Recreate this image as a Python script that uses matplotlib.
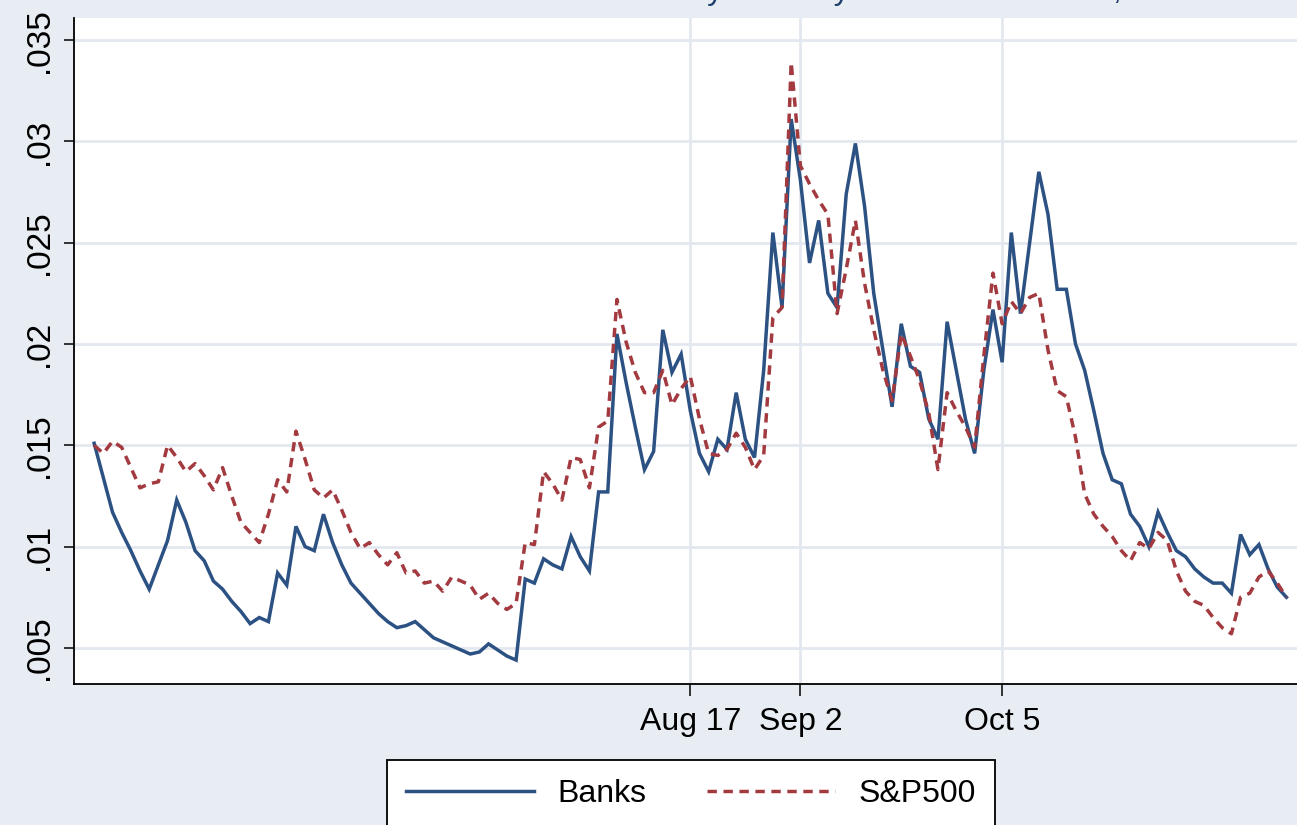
import matplotlib
matplotlib.use("Agg")
import matplotlib.pyplot as plt
import numpy as np

# ---- data ----
banks = [.0151, .0134, .0117, .0107, .0098, .0088, .0079, .0091, .0103, .0123,
         .0112, .0098, .0093, .0083, .0079, .0073, .0068, .0062, .0065, .0063,
         .0087, .0081, .0110, .0100, .0098, .0116, .0102, .0091, .0082, .0077,
         .0072, .0067, .0063, .0060, .0061, .0063, .0059, .0055, .0053, .0051,
         .0049, .0047, .0048, .0052, .0049, .0046, .0044, .0084, .0082, .0094,
         .0091, .0089, .0105, .0095, .0088, .0127, .0127, .0205, .0181, .0159,
         .0138, .0147, .0207, .0186, .0195, .0167, .0146, .0137, .0153, .0148,
         .0176, .0153, .0144, .0187, .0255, .0218, .0311, .0281, .0240, .0261,
         .0225, .0218, .0274, .0299, .0268, .0225, .0197, .0169, .0210, .0189,
         .0186, .0163, .0153, .0211, .0187, .0163, .0146, .0187, .0217, .0191,
         .0255, .0215, .0250, .0285, .0264, .0227, .0227, .0200, .0187, .0167,
         .0146, .0133, .0131, .0116, .0110, .0100, .0117, .0107, .0098, .0095,
         .0089, .0085, .0082, .0082, .0077, .0106, .0096, .0101, .0089, .0080,
         .0075]

sp500 = [.0150, .0146, .0152, .0149, .0139, .0129, .0131, .0132, .0150, .0144,
         .0137, .0141, .0135, .0128, .0139, .0125, .0112, .0107, .0102, .0116,
         .0133, .0127, .0157, .0143, .0128, .0124, .0128, .0118, .0107, .0099,
         .0102, .0096, .0091, .0097, .0087, .0088, .0082, .0083, .0078, .0085,
         .0083, .0081, .0074, .0077, .0072, .0069, .0072, .0102, .0101, .0137,
         .0131, .0123, .0144, .0143, .0129, .0159, .0162, .0222, .0201, .0186,
         .0176, .0176, .0187, .0170, .0178, .0184, .0163, .0146, .0145, .0148,
         .0156, .0149, .0138, .0145, .0213, .0218, .0339, .0288, .0279, .0271,
         .0264, .0215, .0237, .0261, .0230, .0207, .0187, .0172, .0205, .0194,
         .0182, .0166, .0138, .0176, .0167, .0159, .0149, .0194, .0235, .0210,
         .0221, .0215, .0223, .0225, .0197, .0177, .0174, .0154, .0126, .0116,
         .0110, .0105, .0098, .0093, .0102, .0099, .0107, .0103, .0088, .0078,
         .0073, .0071, .0065, .0060, .0057, .0075, .0077, .0085, .0088, .0082,
         .0075]

day_index = list(range(len(banks)))
xtick_pos = [65, 77, 99]
xtick_labels = ["Aug 17", "Sep 2", "Oct 5"]
ytick_vals = [.005, .01, .015, .02, .025, .03, .035]
ytick_labels = [".005", ".01", ".015", ".02", ".025", ".03", ".035"]
series_labels = ["Banks", "S&P500"]
title_text = "Daily Volatility: Banks & S&P500, 2007"

# ---- styling ----
plt.rcParams['font.family'] = ['Liberation Sans', 'DejaVu Sans']
BG = '#e8ecf3'
GRID = '#e3e8f0'
NAVY = '#2c5183'
MAROON = '#a23a40'
FS = 23

W, H = 1297, 825
fig = plt.figure(figsize=(W / 100, H / 100), dpi=100, facecolor=BG)
ax = fig.add_axes([74 / W, 1 - 684 / H, (W - 74) / W, (684 - 18) / H])
ax.set_facecolor('white')

ax.plot(day_index, banks, color=NAVY, lw=2.5, solid_joinstyle='miter',
        label=series_labels[0], zorder=3)
ax.plot(day_index, sp500, color=MAROON, lw=2.5, linestyle=(0, (2.7, 1.9)),
        label=series_labels[1], zorder=3)

ax.set_xlim(-2.2, 131.15)
ax.set_ylim(0.00322, 0.03609)

ax.set_yticks(ytick_vals)
ax.set_yticklabels(ytick_labels, rotation=90, va='center', fontsize=FS + 1)
ax.set_xticks(xtick_pos)
ax.set_xticklabels(xtick_labels, fontsize=FS)

ax.grid(True, color=GRID, lw=2.0, zorder=0)
ax.set_axisbelow(True)
for s in ['top', 'right']:
    ax.spines[s].set_visible(False)
for s in ['left', 'bottom']:
    ax.spines[s].set_color('black')
    ax.spines[s].set_linewidth(1.3)
ax.tick_params(axis='y', direction='out', length=7.5, width=1.1, pad=6)
ax.tick_params(axis='x', direction='out', length=8.5, width=1.1, pad=8)

leg = fig.legend(loc='upper center', bbox_to_anchor=(691 / W, 1 - 760 / H),
                 ncol=2, fontsize=FS, frameon=True, fancybox=False,
                 edgecolor='black', facecolor='white', framealpha=1,
                 handlelength=4.0, handletextpad=0.75, columnspacing=1.9,
                 borderpad=0.6, borderaxespad=0)
leg.get_frame().set_linewidth(1.3)

fig.text(652 / W, 1.0 + 1 / H, title_text, ha='left', va='baseline',
         fontsize=23, color='#1d3f6e')

fig.savefig('out.png', dpi=100, facecolor=BG)
